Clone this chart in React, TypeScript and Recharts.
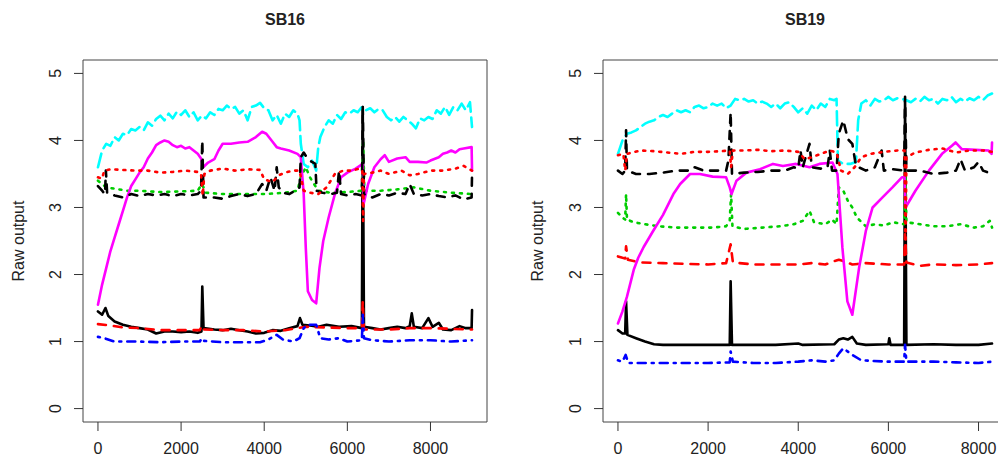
import { LineChart, Line, XAxis, YAxis, ReferenceArea } from 'recharts'

const FONT = '"Liberation Sans", Arial, Helvetica, sans-serif'

const X_TICKS = [0, 2000, 4000, 6000, 8000]
const Y_TICKS = [0, 1, 2, 3, 4, 5]
const Y_DOMAIN: [number, number] = [-0.2, 5.2]

type Pt = [number, number]

// ---- SB16 ----
const sb16BlackSolid: Pt[] = [
  [0, 1.45], [100, 1.4], [180, 1.5], [250, 1.38], [400, 1.3], [600, 1.25], [800, 1.22], [1000, 1.2],
  [1200, 1.18], [1400, 1.12], [1600, 1.15], [1800, 1.15], [2000, 1.14], [2200, 1.15], [2400, 1.13],
  [2490, 1.15], [2510, 1.82], [2540, 1.2], [2800, 1.18], [3000, 1.17], [3200, 1.19], [3400, 1.17],
  [3600, 1.15], [3800, 1.12], [4000, 1.13], [4200, 1.17], [4400, 1.16], [4600, 1.2], [4800, 1.23],
  [4860, 1.35], [4920, 1.25], [5100, 1.24], [5300, 1.22], [5500, 1.25], [5800, 1.22], [6100, 1.23],
  [6350, 1.2], [6370, 4.5], [6400, 1.22], [6600, 1.2], [6800, 1.18], [7000, 1.2], [7200, 1.22],
  [7400, 1.2], [7500, 1.23], [7550, 1.42], [7600, 1.22], [7800, 1.2], [7950, 1.35], [8050, 1.22],
  [8200, 1.28], [8300, 1.18], [8500, 1.17], [8700, 1.23], [8850, 1.2], [8990, 1.2], [9000, 1.47],
]
const sb16RedDashed: Pt[] = [
  [0, 1.26], [300, 1.24], [600, 1.21], [1000, 1.2], [1500, 1.17], [2000, 1.17], [2450, 1.17],
  [2500, 1.24], [2550, 1.18], [3000, 1.17], [3500, 1.17], [4000, 1.15], [4500, 1.17], [4800, 1.2],
  [5000, 1.22], [5500, 1.21], [6000, 1.2], [6350, 1.2], [6370, 1.6], [6400, 1.18], [7000, 1.18],
  [7500, 1.2], [8000, 1.2], [8500, 1.19], [9000, 1.18],
]
const sb16GreenDotted: Pt[] = [
  [0, 3.4], [100, 3.35], [200, 3.3], [400, 3.28], [700, 3.25], [1000, 3.25], [1500, 3.23], [2000, 3.24],
  [2400, 3.25], [2500, 3.35], [2600, 3.22], [3000, 3.2], [3500, 3.2], [4000, 3.2], [4500, 3.22],
  [4800, 3.25], [4880, 3.45], [5000, 3.6], [5100, 3.45], [5200, 3.35], [5300, 3.25], [5600, 3.22],
  [6000, 3.23], [6350, 3.25], [6380, 4.0], [6410, 3.25], [6800, 3.25], [7200, 3.27], [7600, 3.3],
  [8000, 3.25], [8500, 3.22], [9000, 3.2],
]
const sb16BlueDotDash: Pt[] = [
  [0, 1.07], [150, 1.05], [400, 1.0], [1000, 1.0], [1500, 0.99], [2000, 1.0], [2450, 1.0], [2500, 1.05],
  [2550, 1.01], [3000, 0.99], [3500, 0.99], [3900, 0.99], [4100, 1.03], [4300, 1.1], [4450, 1.03],
  [4700, 1.0], [4850, 1.05], [4950, 1.2], [5050, 1.25], [5250, 1.25], [5350, 1.05], [5550, 1.03],
  [5800, 1.05], [6000, 1.0], [6350, 1.02], [6370, 1.4], [6400, 1.05], [6600, 1.02], [7000, 1.0],
  [7500, 1.02], [8000, 1.02], [8500, 1.0], [9000, 1.02],
]
const sb16Cyan: Pt[] = [
  [0, 3.6], [100, 3.85], [200, 3.95], [300, 3.92], [400, 4.05], [500, 4.0], [600, 4.1], [700, 4.08],
  [800, 4.17], [900, 4.15], [1000, 4.2], [1100, 4.15], [1200, 4.27], [1300, 4.22], [1400, 4.32],
  [1500, 4.37], [1600, 4.3], [1700, 4.4], [1800, 4.33], [1900, 4.43], [2000, 4.38], [2100, 4.45],
  [2200, 4.35], [2300, 4.42], [2400, 4.3], [2500, 4.37], [2600, 4.33], [2700, 4.42], [2800, 4.38],
  [2900, 4.47], [3000, 4.45], [3100, 4.52], [3200, 4.47], [3300, 4.5], [3400, 4.4], [3500, 4.45],
  [3600, 4.3], [3700, 4.5], [3800, 4.52], [3900, 4.56], [4000, 4.48], [4100, 4.45], [4200, 4.3],
  [4300, 4.38], [4400, 4.25], [4500, 4.4], [4600, 4.35], [4700, 4.45], [4800, 4.4], [4850, 4.3],
  [4880, 3.95], [4950, 3.65], [5050, 3.6], [5150, 3.7], [5250, 3.55], [5300, 3.9], [5350, 4.05],
  [5450, 4.2], [5550, 4.3], [5650, 4.25], [5750, 4.38], [5850, 4.32], [5950, 4.42], [6050, 4.4],
  [6150, 4.45], [6250, 4.42], [6350, 4.5], [6450, 4.45], [6550, 4.48], [6650, 4.42], [6750, 4.47],
  [6850, 4.45], [6950, 4.35], [7050, 4.3], [7150, 4.35], [7250, 4.28], [7350, 4.35], [7450, 4.3],
  [7550, 4.25], [7650, 4.18], [7750, 4.33], [7850, 4.3], [7950, 4.35], [8050, 4.32], [8150, 4.45],
  [8250, 4.4], [8350, 4.5], [8450, 4.38], [8550, 4.5], [8650, 4.45], [8750, 4.55], [8850, 4.45],
  [8950, 4.57], [9000, 4.2],
]
const sb16Magenta: Pt[] = [
  [0, 1.55], [100, 1.85], [200, 2.1], [300, 2.35], [400, 2.55], [500, 2.75], [600, 2.95], [700, 3.15],
  [800, 3.32], [900, 3.42], [1000, 3.52], [1100, 3.6], [1200, 3.73], [1300, 3.82], [1400, 3.93],
  [1500, 3.97], [1600, 4.0], [1700, 3.98], [1800, 3.93], [1900, 3.9], [2000, 3.92], [2100, 3.88],
  [2200, 3.9], [2300, 3.85], [2400, 3.8], [2480, 3.73], [2530, 3.6], [2650, 3.67], [2800, 3.72],
  [2900, 3.85], [3000, 3.95], [3200, 3.95], [3400, 3.97], [3600, 3.98], [3800, 4.05], [3950, 4.13],
  [4050, 4.1], [4200, 3.98], [4300, 3.9], [4400, 3.88], [4600, 3.85], [4800, 3.8], [4880, 3.75],
  [4950, 3.2], [5000, 2.4], [5050, 1.75], [5150, 1.62], [5250, 1.57], [5330, 2.1], [5420, 2.5],
  [5550, 2.85], [5700, 3.2], [5850, 3.45], [6000, 3.52], [6200, 3.58], [6370, 3.65], [6390, 3.05],
  [6500, 3.35], [6650, 3.6], [6800, 3.72], [6900, 3.78], [7000, 3.68], [7200, 3.73], [7400, 3.75],
  [7500, 3.68], [7700, 3.68], [7900, 3.67], [8000, 3.7], [8200, 3.75], [8300, 3.8], [8400, 3.82],
  [8500, 3.85], [8600, 3.82], [8700, 3.87], [8800, 3.88], [8990, 3.9], [9000, 3.55],
]
const sb16BlackDashed: Pt[] = [
  [0, 3.32], [100, 3.25], [170, 3.2], [190, 3.55], [220, 3.22], [400, 3.18], [600, 3.15], [800, 3.2],
  [1000, 3.17], [1200, 3.2], [1400, 3.18], [1600, 3.2], [1800, 3.17], [2000, 3.2], [2200, 3.18],
  [2400, 3.2], [2480, 3.25], [2510, 4.0], [2540, 3.15], [2800, 3.15], [3000, 3.13], [3200, 3.17],
  [3400, 3.2], [3600, 3.17], [3800, 3.2], [3950, 3.35], [4050, 3.25], [4150, 3.45], [4250, 3.25],
  [4300, 3.6], [4350, 3.3], [4450, 3.22], [4600, 3.2], [4750, 3.25], [4850, 3.3], [4880, 3.75],
  [4950, 3.82], [5050, 3.72], [5150, 3.68], [5230, 3.65], [5260, 3.25], [5400, 3.22], [5600, 3.2],
  [5750, 3.22], [5800, 3.55], [5850, 3.2], [6000, 3.18], [6200, 3.2], [6350, 3.18], [6370, 4.5],
  [6400, 3.2], [6600, 3.15], [6800, 3.2], [7000, 3.18], [7200, 3.22], [7400, 3.2], [7500, 3.35],
  [7600, 3.2], [7800, 3.18], [8000, 3.2], [8200, 3.17], [8400, 3.15], [8600, 3.18], [8800, 3.12],
  [8990, 3.15], [9000, 3.5],
]
const sb16RedDotted: Pt[] = [
  [0, 3.45], [100, 3.43], [150, 3.55], [300, 3.57], [600, 3.56], [900, 3.55], [1200, 3.55], [1500, 3.52],
  [1800, 3.53], [2100, 3.55], [2400, 3.53], [2480, 3.5], [2520, 3.18], [2560, 3.5], [2700, 3.55],
  [3000, 3.58], [3300, 3.55], [3600, 3.57], [3900, 3.56], [4000, 3.42], [4100, 3.4], [4200, 3.38],
  [4350, 3.48], [4500, 3.52], [4700, 3.55], [4850, 3.55], [4950, 3.25], [5100, 3.22], [5300, 3.2],
  [5500, 3.3], [5700, 3.5], [5900, 3.55], [6100, 3.55], [6300, 3.58], [6360, 3.55], [6380, 2.8],
  [6400, 3.5], [6600, 3.52], [6800, 3.55], [7000, 3.5], [7300, 3.55], [7500, 3.48], [7700, 3.5],
  [8000, 3.55], [8300, 3.55], [8600, 3.58], [8800, 3.62], [9000, 3.55],
]

// ---- SB19 ----
const sb19BlackSolid: Pt[] = [
  [0, 1.17], [100, 1.12], [160, 1.12], [180, 1.6], [210, 1.1], [400, 1.05], [600, 1.0], [800, 0.96],
  [1000, 0.95], [1500, 0.95], [2000, 0.95], [2480, 0.95], [2500, 1.9], [2530, 0.95], [3000, 0.95],
  [3500, 0.95], [4000, 0.97], [4100, 0.95], [4800, 0.96], [4900, 1.03], [5000, 1.05], [5100, 1.03],
  [5200, 1.07], [5300, 0.97], [5500, 0.95], [6000, 0.96], [6020, 1.05], [6050, 0.95], [6350, 0.95],
  [6370, 4.6], [6400, 0.95], [7000, 0.96], [7500, 0.95], [8000, 0.95], [8300, 0.97],
]
const sb19RedDashed: Pt[] = [
  [0, 2.27], [100, 2.25], [160, 2.24], [180, 2.42], [220, 2.22], [500, 2.18], [1000, 2.17], [1500, 2.16],
  [2000, 2.15], [2400, 2.17], [2500, 2.45], [2550, 2.18], [3000, 2.15], [3500, 2.15], [4000, 2.15],
  [4300, 2.17], [4600, 2.15], [4800, 2.2], [4900, 2.22], [5000, 2.2], [5200, 2.15], [5500, 2.17],
  [6000, 2.15], [6350, 2.15], [6370, 2.6], [6400, 2.18], [6700, 2.13], [7000, 2.15], [7500, 2.14],
  [8000, 2.15], [8300, 2.17],
]
const sb19GreenDotted: Pt[] = [
  [0, 2.92], [100, 2.85], [160, 2.82], [180, 3.2], [200, 2.82], [350, 2.78], [600, 2.75], [900, 2.72],
  [1300, 2.7], [1700, 2.7], [2100, 2.7], [2400, 2.72], [2480, 2.8], [2510, 3.2], [2540, 2.72],
  [2800, 2.68], [3200, 2.7], [3600, 2.72], [3900, 2.75], [4100, 2.8], [4250, 2.95], [4350, 2.78],
  [4600, 2.75], [4750, 2.82], [4850, 2.75], [4900, 3.3], [5000, 3.25], [5100, 3.1], [5200, 3.0],
  [5300, 2.85], [5500, 2.72], [5700, 2.75], [5900, 2.73], [6100, 2.78], [6350, 2.75], [6380, 3.5],
  [6400, 2.78], [6700, 2.75], [7000, 2.72], [7300, 2.72], [7600, 2.75], [7900, 2.7], [8100, 2.72],
  [8250, 2.8], [8300, 2.7],
]
const sb19BlueDotDash: Pt[] = [
  [0, 0.72], [100, 0.7], [170, 0.8], [230, 0.68], [600, 0.68], [1200, 0.68], [2000, 0.68], [2480, 0.69],
  [2500, 0.85], [2550, 0.7], [3000, 0.68], [3500, 0.68], [4000, 0.7], [4300, 0.72], [4600, 0.7],
  [4800, 0.72], [4900, 0.82], [5000, 0.9], [5100, 0.85], [5200, 0.8], [5400, 0.72], [6000, 0.7],
  [6350, 0.7], [6370, 0.95], [6400, 0.7], [7000, 0.7], [7500, 0.69], [8000, 0.68], [8300, 0.7],
]
const sb19Cyan: Pt[] = [
  [0, 3.8], [100, 4.0], [200, 4.1], [300, 4.12], [400, 4.15], [500, 4.2], [600, 4.25], [700, 4.28],
  [800, 4.3], [900, 4.35], [1000, 4.38], [1100, 4.35], [1200, 4.4], [1300, 4.45], [1400, 4.42],
  [1500, 4.45], [1600, 4.42], [1700, 4.5], [1800, 4.52], [1900, 4.48], [2000, 4.5], [2100, 4.55],
  [2200, 4.52], [2300, 4.55], [2400, 4.48], [2500, 4.52], [2600, 4.62], [2700, 4.6], [2800, 4.62],
  [2900, 4.58], [3000, 4.6], [3100, 4.55], [3200, 4.58], [3300, 4.55], [3400, 4.5], [3500, 4.55],
  [3600, 4.48], [3700, 4.55], [3800, 4.57], [3900, 4.5], [4000, 4.42], [4100, 4.48], [4200, 4.4],
  [4300, 4.52], [4400, 4.45], [4500, 4.55], [4600, 4.5], [4700, 4.62], [4800, 4.6], [4850, 4.62],
  [4880, 3.7], [5000, 3.65], [5150, 3.65], [5280, 3.68], [5330, 4.3], [5400, 4.55], [5500, 4.6],
  [5600, 4.52], [5700, 4.62], [5800, 4.58], [5900, 4.6], [6000, 4.65], [6100, 4.6], [6200, 4.63],
  [6300, 4.62], [6400, 4.6], [6500, 4.57], [6600, 4.62], [6700, 4.58], [6800, 4.65], [6900, 4.6],
  [7000, 4.62], [7100, 4.55], [7200, 4.62], [7300, 4.6], [7400, 4.65], [7500, 4.57], [7600, 4.62],
  [7700, 4.58], [7800, 4.63], [7900, 4.6], [8000, 4.65], [8100, 4.6], [8200, 4.67], [8300, 4.7],
]
const sb19Magenta: Pt[] = [
  [0, 1.27], [100, 1.45], [200, 1.67], [350, 2.07], [450, 2.25], [570, 2.41], [790, 2.66], [1000, 2.89],
  [1230, 3.2], [1380, 3.35], [1600, 3.5], [1820, 3.5], [2100, 3.46], [2400, 3.45], [2480, 3.3],
  [2520, 3.2], [2630, 3.4], [2850, 3.52], [3150, 3.57], [3440, 3.65], [3660, 3.62], [3950, 3.65],
  [4250, 3.6], [4470, 3.65], [4760, 3.67], [4870, 3.5], [4980, 2.4], [5090, 1.6], [5200, 1.4],
  [5350, 2.1], [5500, 2.65], [5650, 3.0], [5870, 3.15], [6090, 3.3], [6300, 3.45], [6360, 3.45],
  [6380, 3.0], [6600, 3.25], [6900, 3.55], [7190, 3.8], [7410, 3.92], [7490, 3.97], [7630, 3.87],
  [7930, 3.86], [8220, 3.85], [8290, 3.8], [8300, 3.97],
]
const sb19BlackDashed: Pt[] = [
  [0, 3.55], [100, 3.5], [160, 3.55], [180, 4.15], [200, 3.55], [400, 3.5], [700, 3.5], [1000, 3.52],
  [1300, 3.55], [1600, 3.55], [1700, 3.6], [1900, 3.55], [2200, 3.55], [2400, 3.55], [2450, 3.7],
  [2500, 4.42], [2530, 3.5], [2800, 3.52], [3100, 3.53], [3400, 3.55], [3700, 3.55], [3900, 3.6],
  [4000, 3.58], [4050, 3.85], [4100, 3.6], [4250, 3.95], [4300, 3.6], [4500, 3.58], [4650, 3.6],
  [4700, 3.85], [4750, 3.55], [4850, 3.55], [4900, 4.1], [5000, 4.3], [5100, 4.02], [5200, 3.95],
  [5280, 3.62], [5500, 3.55], [5700, 3.6], [5850, 3.85], [5900, 3.55], [6100, 3.57], [6350, 3.55],
  [6370, 4.65], [6400, 3.55], [6700, 3.55], [7000, 3.5], [7300, 3.52], [7500, 3.55], [7600, 3.72],
  [7700, 3.55], [7900, 3.6], [8000, 3.68], [8100, 3.55], [8300, 3.5],
]
const sb19RedDotted: Pt[] = [
  [0, 3.78], [120, 3.8], [160, 3.55], [200, 3.8], [500, 3.85], [800, 3.84], [1100, 3.82], [1400, 3.8],
  [1700, 3.83], [2000, 3.83], [2300, 3.84], [2480, 3.85], [2510, 3.6], [2550, 3.85], [2800, 3.85],
  [3100, 3.86], [3400, 3.84], [3700, 3.85], [4000, 3.83], [4150, 3.72], [4300, 3.75], [4500, 3.8],
  [4700, 3.85], [4850, 3.82], [4950, 3.55], [5100, 3.5], [5250, 3.6], [5400, 3.75], [5600, 3.8],
  [5900, 3.83], [6200, 3.85], [6360, 3.85], [6380, 2.3], [6400, 3.75], [6600, 3.82], [6900, 3.86],
  [7200, 3.88], [7500, 3.82], [7800, 3.85], [8100, 3.85], [8300, 3.83],
]

// matplot defaults: col = 1:6, lty = 1:5 (lwd 2)
const STYLES = [
  { color: '#000000', dash: undefined },
  { color: '#FF0000', dash: '8 8' },
  { color: '#00CD00', dash: '2 6' },
  { color: '#0000FF', dash: '2 6 8 6' },
  { color: '#00FFFF', dash: '14 6' },
  { color: '#FF00FF', dash: undefined },
  { color: '#000000', dash: '8 8' },
  { color: '#FF0000', dash: '2 6' },
]

const SB16 = [sb16BlackSolid, sb16RedDashed, sb16GreenDotted, sb16BlueDotDash, sb16Cyan, sb16Magenta, sb16BlackDashed, sb16RedDotted]
const SB19 = [sb19BlackSolid, sb19RedDashed, sb19GreenDotted, sb19BlueDotDash, sb19Cyan, sb19Magenta, sb19BlackDashed, sb19RedDotted]

const XTick = (props: any) => (
  <text x={props.x} y={props.y + 15} textAnchor="middle" dominantBaseline="central"
    fontSize={16} fill="#222" fontFamily={FONT}>
    {props.payload.value}
  </text>
)

const YTick = (props: any) => {
  const cx = props.x - 16
  return (
    <text x={cx} y={props.y} transform={`rotate(-90 ${cx} ${props.y})`} textAnchor="middle"
      dominantBaseline="central" fontSize={16} fill="#222" fontFamily={FONT}>
      {props.payload.value}
    </text>
  )
}

interface PanelProps {
  left: number
  width: number
  yAxisWidth: number
  title: string
  xDomain: [number, number]
  series: Pt[][]
  labelX: number
}

function Panel({ left, width, yAxisWidth, title, xDomain, series, labelX }: PanelProps) {
  const plotWidth = width - yAxisWidth - 13
  return (
    <div style={{ position: 'absolute', left, top: 0, width, height: 459 }}>
      <div style={{
        position: 'absolute', left: yAxisWidth, width: plotWidth, top: 10, textAlign: 'center',
        fontFamily: FONT, fontWeight: 'bold', fontSize: 16, color: '#222', lineHeight: '20px',
      }}>{title}</div>
      <div style={{
        position: 'absolute', left: labelX, top: 241, transform: 'translate(-50%, -50%) rotate(-90deg)',
        fontFamily: FONT, fontSize: 16, color: '#222', whiteSpace: 'nowrap',
      }}>Raw output</div>
      <LineChart width={width} height={459} margin={{ top: 60, right: 13, bottom: 0, left: 0 }}>
        <XAxis type="number" dataKey="x" domain={xDomain} ticks={X_TICKS} allowDataOverflow
          height={37} tickSize={9} axisLine={false} tickLine={{ stroke: '#333' }} tick={XTick} />
        <YAxis type="number" domain={Y_DOMAIN} ticks={Y_TICKS} allowDataOverflow width={yAxisWidth}
          tickSize={9} axisLine={false} tickLine={{ stroke: '#333' }} tick={YTick} />
        <ReferenceArea x1={xDomain[0]} x2={xDomain[1]} y1={Y_DOMAIN[0]} y2={Y_DOMAIN[1]}
          fill="none" stroke="#444" strokeWidth={1} ifOverflow="visible" />
        {series.map((pts, i) => (
          <Line key={i} data={pts.map(([x, y]) => ({ x, y }))} dataKey="y" type="linear"
            stroke={STYLES[i].color} strokeDasharray={STYLES[i].dash} strokeWidth={2.6}
            strokeLinecap="round" strokeLinejoin="round" dot={false} activeDot={false}
            isAnimationActive={false} />
        ))}
      </LineChart>
    </div>
  )
}

export default function App() {
  return (
    <div style={{ position: 'fixed', left: 0, top: 0, width: 998, height: 459, overflow: 'hidden', background: '#fff' }}>
      <Panel left={0} width={500} yAxisWidth={83} title="SB16" xDomain={[-360, 9360]} series={SB16} labelX={19} />
      <Panel left={500} width={520} yAxisWidth={103} title="SB19" xDomain={[-332, 8632]} series={SB19} labelX={38} />
    </div>
  )
}
